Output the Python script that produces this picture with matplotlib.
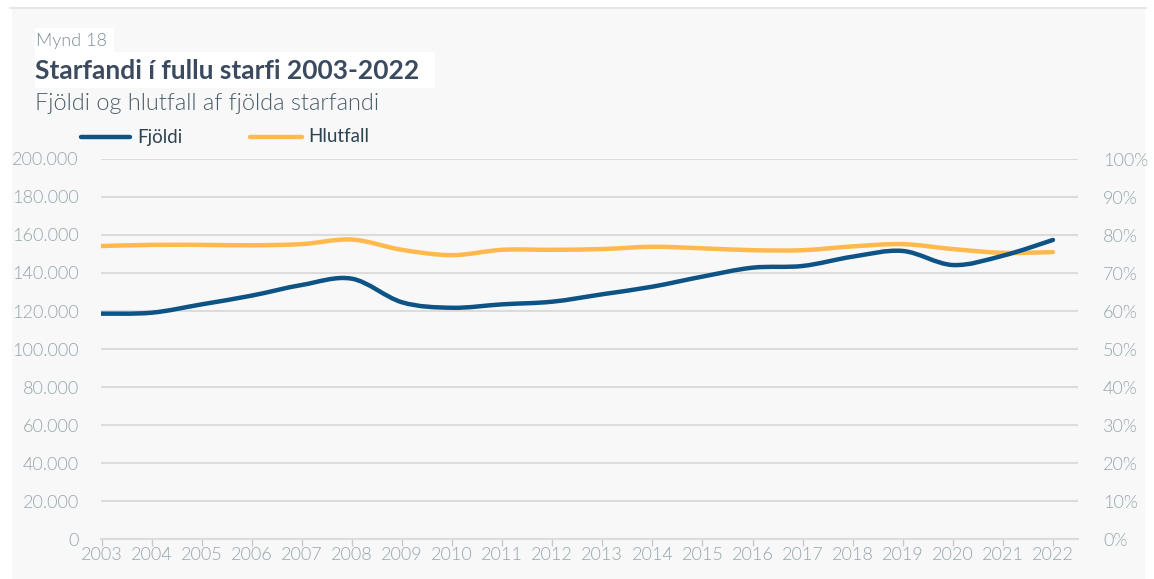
import matplotlib
matplotlib.use("Agg")
import matplotlib.pyplot as plt
from matplotlib.path import Path
from matplotlib.patches import PathPatch, Rectangle
from matplotlib.lines import Line2D
from matplotlib.ticker import FuncFormatter, MultipleLocator
import numpy as np

years = list(range(2003, 2023))
fjoldi = [118600, 119100, 123500, 128100, 133700, 137000, 124600, 121700, 123500, 124900,
          128800, 132800, 138100, 142800, 143700, 148600, 151600, 144200, 149100, 157400]
hlutfall = [77.1, 77.4, 77.4, 77.3, 77.6, 78.8, 76.1, 74.7, 76.1, 76.1,
            76.3, 76.9, 76.5, 76.0, 76.0, 77.0, 77.6, 76.3, 75.3, 75.5]
series_names = ["Fjöldi", "Hlutfall"]

BLUE = "#0d5385"
ORANGE = "#ffb94d"
TICK_COL = "#95a6ab"
GRID_COL = "#dcdcdc"
LIGHT = 300

plt.rcParams['font.family'] = ['Lato', 'DejaVu Sans']

fig = plt.figure(figsize=(11.54, 5.79), dpi=100)
fig.patch.set_facecolor("white")
W, H = 1154, 579

def fx(px):
    return px / W

def fy(py):
    return 1 - py / H

# background panel
fig.patches.append(Rectangle((fx(12), 0), fx(1145 - 12), fy(8), transform=fig.transFigure,
                             facecolor="#f8f8f8", edgecolor="none", zorder=-10))
fig.add_artist(Line2D([fx(10), fx(1146)], [fy(8), fy(8)], transform=fig.transFigure,
                      color="#e2e2e2", lw=1.2))
# white boxes behind titles
fig.patches.append(Rectangle((fx(35), fy(52)), fx(114 - 35), fy(28) - fy(52), transform=fig.transFigure,
                             facecolor="white", edgecolor="none", zorder=-5))
fig.patches.append(Rectangle((fx(35), fy(88)), fx(435 - 35), fy(52) - fy(88), transform=fig.transFigure,
                             facecolor="white", edgecolor="none", zorder=-5))

fig.text(fx(36), fy(41), "Mynd 18", fontsize=13, fontweight=LIGHT, color="#7d8e95", va="center")
fig.text(fx(35), fy(71), "Starfandi í fullu starfi 2003-2022", fontsize=19, fontweight="bold",
         color="#3b4a5e", va="center")
fig.text(fx(35), fy(103), "Fjöldi og hlutfall af fjölda starfandi", fontsize=16.9, fontweight=LIGHT,
         color="#4a5e6a", va="center")

left, right, top, bottom = 101, 1078, 159, 539
ax = fig.add_axes([fx(left), fy(bottom), fx(right - left), fy(top) - fy(bottom)])
ax.set_facecolor("none")
ax2 = ax.twinx()

def smooth_path(xs, ys):
    xs = np.asarray(xs, float)
    ys = np.asarray(ys, float)
    n = len(xs)
    verts = [(xs[0], ys[0])]
    codes = [Path.MOVETO]
    for i in range(n - 1):
        p0 = np.array([xs[max(i - 1, 0)], ys[max(i - 1, 0)]])
        p1 = np.array([xs[i], ys[i]])
        p2 = np.array([xs[i + 1], ys[i + 1]])
        p3 = np.array([xs[min(i + 2, n - 1)], ys[min(i + 2, n - 1)]])
        c1 = p1 + (p2 - p0) / 6.0
        c2 = p2 - (p3 - p1) / 6.0
        verts += [tuple(c1), tuple(c2), tuple(p2)]
        codes += [Path.CURVE4] * 3
    return Path(verts, codes)

ax.add_patch(PathPatch(smooth_path(years, fjoldi), facecolor="none", edgecolor=BLUE, lw=3.2,
                       capstyle="round", joinstyle="round", zorder=5))
ax2.add_patch(PathPatch(smooth_path(years, hlutfall), facecolor="none", edgecolor=ORANGE, lw=3.2,
                        capstyle="round", joinstyle="round", zorder=4))

ax.set_xlim(2003 - 0.01, 2022.5)
ax.set_ylim(0, 200000)
ax2.set_ylim(0, 100)
ax.set_zorder(ax2.get_zorder() + 1)
ax.patch.set_visible(False)

ax.yaxis.set_major_locator(MultipleLocator(20000))
ax.yaxis.set_major_formatter(FuncFormatter(lambda v, p: f"{int(v):,}".replace(",", ".")))
ax2.yaxis.set_major_locator(MultipleLocator(10))
ax2.yaxis.set_major_formatter(FuncFormatter(lambda v, p: f"{int(v)}%"))
ax.set_xticks(years)
ax.set_xticklabels([str(y) for y in years])

ax.grid(axis="y", color=GRID_COL, lw=1.5)
ax.set_axisbelow(True)
for a in (ax, ax2):
    for s in a.spines.values():
        s.set_visible(False)
ax.spines["bottom"].set_visible(True)
ax.spines["bottom"].set_color(GRID_COL)
ax.spines["bottom"].set_linewidth(1.5)

ax.tick_params(axis="y", length=0, pad=16, labelsize=13, labelcolor=TICK_COL)
ax2.tick_params(axis="y", length=0, pad=18, labelsize=13, labelcolor=TICK_COL)
ax.tick_params(axis="x", length=5, width=1, color="#c8c8c8", pad=1, labelsize=13, labelcolor=TICK_COL)
for lab in ax.get_xticklabels() + ax.get_yticklabels() + ax2.get_yticklabels():
    lab.set_fontweight(LIGHT)

# legend
fig.add_artist(Line2D([fx(81), fx(130)], [fy(137), fy(137)], transform=fig.transFigure,
                      color=BLUE, lw=3.2, solid_capstyle="round"))
fig.text(fx(137), fy(137), series_names[0], fontsize=13.5, color="#2e4453", va="center")
fig.add_artist(Line2D([fx(250), fx(302)], [fy(137), fy(137)], transform=fig.transFigure,
                      color=ORANGE, lw=3.2, solid_capstyle="round"))
fig.text(fx(308), fy(137), series_names[1], fontsize=13.5, color="#2e4453", va="center")

fig.savefig("out.png", dpi=100)
